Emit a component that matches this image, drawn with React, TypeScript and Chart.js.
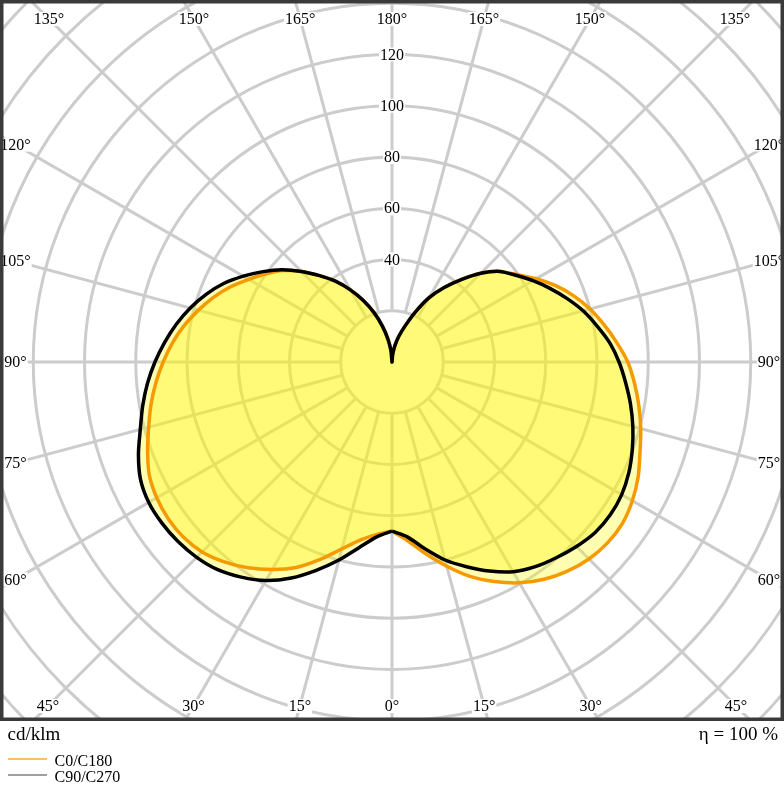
import { useEffect, useRef } from 'react';
import { Chart, registerables } from 'chart.js';

Chart.register(...registerables);

// Polar angles (gamma, 0 = nadir at bottom, 180 = zenith at top)
const GAMMA = [0, 5, 10, 15, 20, 25, 30, 35, 40, 45, 50, 55, 60, 65, 70, 75, 80, 85, 90, 95, 100, 105, 110, 115, 120, 125, 130, 135, 140, 145, 150, 155, 160, 165, 170, 175, 180];

// Luminous intensity (cd/klm) per half-plane
const C0 = [66, 70, 76, 82.5, 89, 94.5, 99.5, 103.5, 106.5, 108.7, 109.8, 109.8, 108.3, 106, 103, 100.5, 97.8, 95, 92, 88, 84, 80, 75.5, 70.5, 65, 59.5, 55, 49, 42, 35.5, 29, 21.5, 15, 10.5, 6.5, 3, 0];
const C180 = [66, 67.5, 70.5, 75.5, 82, 88.5, 93.5, 98, 101.8, 104.8, 106.3, 106.6, 106, 104.5, 101.5, 98.3, 95.5, 92.5, 89.3, 86, 82.3, 78.2, 74, 69.5, 64.5, 60, 55.5, 50, 44, 38.5, 32.5, 26.5, 20.5, 14.5, 9, 4, 0];
const C90 = [66, 68.5, 74, 80, 85, 90, 94.5, 97.5, 99.7, 101.8, 103.5, 104, 103.5, 102, 99.8, 97.3, 94.5, 91.5, 88.6, 85.3, 81.2, 77.2, 72.6, 68, 63.5, 59, 55, 49, 42, 35.5, 29, 21.5, 15, 10.5, 6.5, 3, 0];
const C270 = [66, 68.5, 73.5, 80, 86.5, 93, 98.5, 102.5, 105.8, 107.8, 109, 109.6, 109.6, 108.3, 105.3, 101.7, 98.8, 95.8, 92.5, 89, 85.4, 81.5, 77.2, 72.5, 67, 61.5, 56, 50, 44, 38.5, 32.5, 26.5, 20.5, 14.5, 9, 4, 0];

const RING_VALUES = [20, 40, 60, 80, 100, 120, 140, 160, 180, 200, 220];
const RING_LABELS = [40, 60, 80, 100, 120];
const ANGLE_LABELS = [0, 15, 30, 45, 60, 75, 90, 105, 120, 135, 150, 165, 180];
const SERIES_LABELS = ['C0/C180', 'C90/C270'];
const UNIT_LABEL = 'cd/klm';
const EFFICIENCY_LABEL = 'η = 100 %';

// layout / style constants
const W = 784;
const H = 800;
const BOX_BOTTOM = 721;
const CENTER_X = 392;
const CENTER_Y = 362;
const PX_PER_UNIT = 2.5625;
const FONT = "'Liberation Serif', 'Times New Roman', serif";
const GRID_COLOR = 'rgb(204,204,204)';
const ORANGE = '#f59a00';
const FILL = 'rgba(255,250,0,0.31)';

function loop(right: number[], left: number[]) {
  const pts: { x: number; y: number }[] = [];
  for (let i = 0; i < GAMMA.length; i++) {
    const a = (GAMMA[i] * Math.PI) / 180;
    pts.push({ x: right[i] * Math.sin(a), y: -right[i] * Math.cos(a) });
  }
  for (let i = GAMMA.length - 2; i >= 0; i--) {
    const a = (GAMMA[i] * Math.PI) / 180;
    pts.push({ x: -left[i] * Math.sin(a), y: -left[i] * Math.cos(a) });
  }
  return pts;
}

const gridPlugin = {
  id: 'ldcGrid',
  beforeDraw(chart: any) {
    const { ctx, chartArea, scales } = chart;
    const xs = scales.x;
    const ys = scales.y;
    const cx = xs.getPixelForValue(0);
    const cy = ys.getPixelForValue(0);
    const k = xs.getPixelForValue(1) - cx;
    ctx.save();
    ctx.fillStyle = '#fff';
    ctx.fillRect(0, 0, chart.width, chart.height);
    ctx.beginPath();
    ctx.rect(chartArea.left, chartArea.top, chartArea.right - chartArea.left, chartArea.bottom - chartArea.top);
    ctx.clip();
    ctx.strokeStyle = GRID_COLOR;
    ctx.lineWidth = 3;
    for (const r of RING_VALUES) {
      ctx.beginPath();
      ctx.arc(cx, cy, r * k, 0, Math.PI * 2);
      ctx.stroke();
    }
    const inner = RING_VALUES[0] * k;
    const outer = RING_VALUES[RING_VALUES.length - 1] * k * 1.2;
    for (let g = 0; g < 360; g += 15) {
      const a = (g * Math.PI) / 180;
      ctx.beginPath();
      ctx.moveTo(cx + inner * Math.sin(a), cy + inner * Math.cos(a));
      ctx.lineTo(cx + outer * Math.sin(a), cy + outer * Math.cos(a));
      ctx.stroke();
    }
    ctx.restore();
  },
  afterDraw(chart: any) {
    const { ctx, chartArea, scales } = chart;
    const xs = scales.x;
    const ys = scales.y;
    const cx = xs.getPixelForValue(0);
    const cy = ys.getPixelForValue(0);
    const k = xs.getPixelForValue(1) - cx;
    ctx.save();
    ctx.textAlign = 'center';
    ctx.textBaseline = 'middle';
    ctx.font = `16px ${FONT}`;
    // ring labels
    for (const v of RING_LABELS) {
      const y = cy - v * k;
      const t = String(v);
      const w = ctx.measureText(t).width;
      ctx.fillStyle = '#fff';
      ctx.fillRect(cx - w / 2 - 1, y - 7, w + 2, 14);
      ctx.fillStyle = '#000';
      ctx.fillText(t, cx, y + 1);
    }
    // angle labels at the box edges
    const xL = chartArea.left + 15.5;
    const xR = chartArea.right - 15;
    const yT = chartArea.top + 19;
    const yB = chartArea.bottom - 15;
    for (const g of ANGLE_LABELS) {
      const sides = g === 0 || g === 180 ? [1] : [-1, 1];
      for (const s of sides) {
        const a = (g * Math.PI) / 180;
        const dx = s * Math.sin(a);
        const dy = Math.cos(a);
        let t = Infinity;
        if (dx < -1e-9) t = Math.min(t, (cx - xL) / -dx);
        if (dx > 1e-9) t = Math.min(t, (xR - cx) / dx);
        if (dy < -1e-9) t = Math.min(t, (cy - yT) / -dy);
        if (dy > 1e-9) t = Math.min(t, (yB - cy) / dy);
        const px = cx + dx * t;
        const py = cy + dy * t;
        const txt = `${g}°`;
        const w = ctx.measureText(txt).width;
        ctx.fillStyle = '#fff';
        ctx.fillRect(px - w / 2 - 1, py - 7, w + 2, 14);
        ctx.fillStyle = '#000';
        ctx.fillText(txt, px, py + 1);
      }
    }
    // frame
    ctx.strokeStyle = '#3a3a3a';
    ctx.lineWidth = 3.5;
    ctx.strokeRect(chartArea.left + 1.75, chartArea.top + 1.75, chartArea.right - chartArea.left - 3.5, chartArea.bottom - chartArea.top - 3.5);
    // texts under the frame
    ctx.textBaseline = 'alphabetic';
    ctx.fillStyle = '#000';
    ctx.font = `19px ${FONT}`;
    ctx.textAlign = 'left';
    ctx.fillText(UNIT_LABEL, 7.5, 740);
    ctx.textAlign = 'right';
    ctx.fillText(EFFICIENCY_LABEL, 778, 740);
    // legend
    const legendColors = ['#f6a83a', '#808080'];
    ctx.font = `16px ${FONT}`;
    ctx.textAlign = 'left';
    SERIES_LABELS.forEach((lab, i) => {
      const y = 759 + i * 16;
      ctx.strokeStyle = legendColors[i];
      ctx.lineWidth = 1.5;
      ctx.beginPath();
      ctx.moveTo(8, y);
      ctx.lineTo(47, y);
      ctx.stroke();
      ctx.fillStyle = '#000';
      ctx.fillText(lab, 54.5, y + 6.5);
    });
    ctx.restore();
  },
};

export default function App() {
  const ref = useRef<HTMLCanvasElement | null>(null);
  useEffect(() => {
    if (!ref.current) return;
    const xHalf = CENTER_X / PX_PER_UNIT;
    const yMax = CENTER_Y / PX_PER_UNIT;
    const yMin = -(BOX_BOTTOM - CENTER_Y) / PX_PER_UNIT;
    const chart = new Chart(ref.current, {
      type: 'scatter',
      data: {
        datasets: [
          {
            label: SERIES_LABELS[1],
            data: loop(C90, C270),
            showLine: true,
            borderColor: '#000',
            borderWidth: 3.5,
            backgroundColor: FILL,
            fill: 'shape',
            pointRadius: 0,
            tension: 0.25,
          },
          {
            label: SERIES_LABELS[0],
            data: loop(C0, C180),
            showLine: true,
            borderColor: ORANGE,
            borderWidth: 3.5,
            backgroundColor: FILL,
            fill: 'shape',
            pointRadius: 0,
            tension: 0.25,
          },
        ],
      },
      options: {
        responsive: false,
        animation: false,
        devicePixelRatio: 1,
        layout: { padding: { left: 0, right: 0, top: 0, bottom: H - BOX_BOTTOM } },
        scales: {
          x: { type: 'linear', display: false, min: -xHalf, max: xHalf },
          y: { type: 'linear', display: false, min: yMin, max: yMax },
        },
        plugins: {
          legend: { display: false },
          tooltip: { enabled: false },
          filler: { drawTime: 'beforeDatasetsDraw' },
        },
      } as any,
      plugins: [gridPlugin],
    });
    return () => chart.destroy();
  }, []);
  return (
    <div style={{ position: 'absolute', left: 0, top: 0, width: W, height: H, background: '#fff' }}>
      <canvas ref={ref} width={W} height={H} style={{ display: 'block' }} />
    </div>
  );
}
